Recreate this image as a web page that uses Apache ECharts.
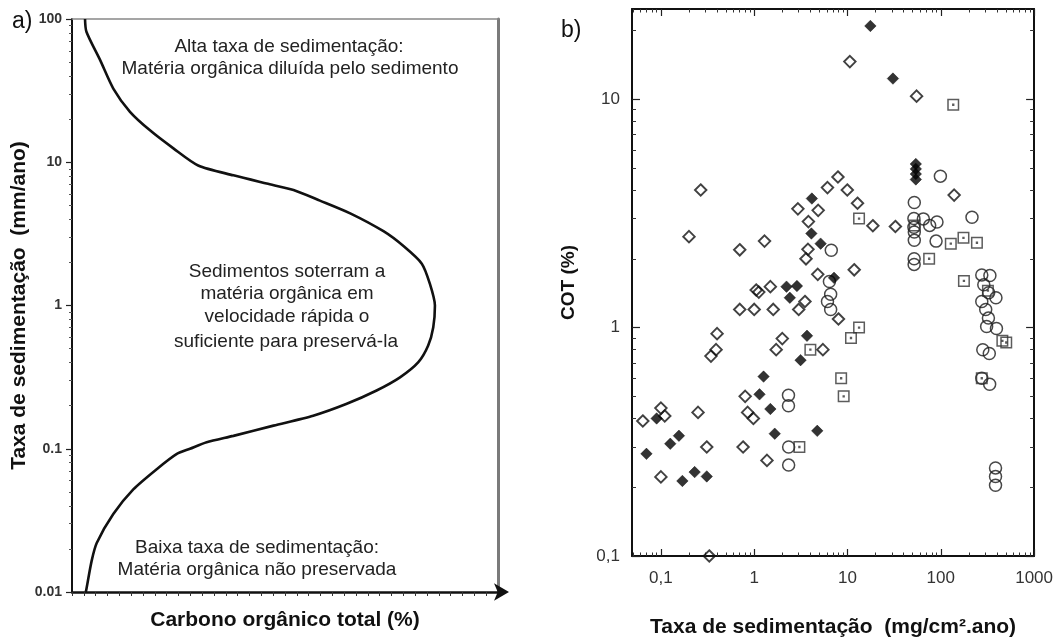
<!DOCTYPE html>
<html>
<head>
<meta charset="utf-8">
<script src="https://cdn.jsdelivr.net/npm/echarts@6/dist/echarts.min.js"></script>
<style>
  html, body { margin: 0; padding: 0; background: #fff; }
  #chart { width: 1056px; height: 643px; }
</style>
</head>
<body>
<div id="chart"></div>
<script>
// ---- Panel a: conceptual curve (carbon, unitless axis) vs sedimentation rate (mm/ano)
const curveCarbon = [1.10, 1.22, 2.38, 3.49, 4.90, 6.59, 8.57, 10.66, 13.64, 16.45, 18.72, 20.95,
  23.51, 26.32, 28.01, 29.56, 30.24, 30.67, 30.53, 30.10, 29.27, 27.72, 25.74, 23.22, 20.38,
  17.03, 13.64, 11.38, 9.97, 8.86, 7.16, 5.18, 3.49, 2.09, 1.66, 1.19, 1.15];
const curveRate = [100, 81.5, 51.6, 32.7, 22.5, 16.7, 12.5, 9.5, 8.1, 7.1, 6.4, 5.4,
  4.4, 3.3, 2.6, 1.96, 1.42, 1.0, 0.705, 0.525, 0.402, 0.315, 0.255, 0.206, 0.17,
  0.145, 0.123, 0.111, 0.1, 0.092, 0.072, 0.052, 0.035, 0.022, 0.0165, 0.0102, 0.01];
const rateTicksA = [0.01, 0.1, 1, 10, 100];
const rateTickLabelsA = ['0.01', '0.1', '1', '10', '100'];

// ---- Panel b: [taxa de sedimentação (mg/cm².ano), COT (%)]
const xTicksB = [0.1, 1, 10, 100, 1000];
const xTickLabelsB = ['0,1', '1', '10', '100', '1000'];
const yTicksB = [0.1, 1, 10];
const yTickLabelsB = ['0,1', '1', '10'];

const filledDiamonds = [
  [17.6, 20.9], [30.7, 12.3], [54, 5.2], [54, 4.95], [54, 4.7], [54, 4.45], [4.15, 3.67],
  [4.1, 2.58], [5.15, 2.33], [2.22, 1.51], [2.87, 1.52], [2.41, 1.35], [7.17, 1.65],
  [3.68, 0.92], [3.14, 0.72], [1.26, 0.61], [1.14, 0.51], [1.49, 0.44], [1.66, 0.343],
  [4.74, 0.353], [0.09, 0.40], [0.07, 0.28], [0.126, 0.31], [0.156, 0.336], [0.17, 0.213],
  [0.23, 0.233], [0.31, 0.223]
];
const openDiamonds = [
  [10.6, 14.6], [55, 10.3], [0.267, 4.0], [2.94, 3.31], [4.85, 3.26], [6.1, 4.1], [7.9, 4.56],
  [9.95, 4.0], [12.8, 3.5], [139, 3.8], [18.7, 2.79], [32.6, 2.77], [3.81, 2.91], [3.77, 2.2],
  [3.59, 2.0], [11.8, 1.79], [4.8, 1.71], [0.2, 2.5], [0.7, 2.19], [1.29, 2.39], [1.05, 1.46],
  [1.12, 1.43], [1.49, 1.51], [0.7, 1.2], [1.0, 1.2], [1.6, 1.2], [3.5, 1.3], [3.0, 1.2],
  [8.0, 1.09], [2.0, 0.895], [1.72, 0.8], [5.45, 0.8], [0.4, 0.94], [0.39, 0.8], [0.344, 0.75],
  [0.1, 0.444], [0.11, 0.41], [0.064, 0.39], [0.25, 0.425], [0.8, 0.5], [0.85, 0.425],
  [0.98, 0.4], [0.31, 0.3], [0.76, 0.3], [1.37, 0.262], [0.1, 0.222], [0.33, 0.1]
];
const openCircles = [
  [99, 4.6], [52, 3.53], [216, 3.04], [51.5, 3.0], [65, 2.99], [76, 2.8], [91, 2.9],
  [51.5, 2.75], [52, 2.62], [52, 2.41], [89, 2.39], [51.8, 2.0], [51.8, 1.89], [6.7, 2.18],
  [6.4, 1.59], [6.6, 1.4], [6.1, 1.3], [6.6, 1.2], [2.33, 0.505], [2.33, 0.455], [2.34, 0.3],
  [2.34, 0.25], [275, 1.7], [336, 1.69], [289, 1.54], [326, 1.42], [275, 1.3], [390, 1.35],
  [303, 1.2], [324, 1.1], [310, 1.01], [395, 0.99], [282, 0.8], [331, 0.77], [275, 0.6],
  [334, 0.565], [386, 0.243], [386, 0.223], [386, 0.204]
];
const openSquares = [
  [136, 9.45], [13.3, 3.0], [128, 2.33], [175, 2.47], [244, 2.35], [75, 2.0], [177, 1.6],
  [52.6, 2.8], [320, 1.45], [457, 0.875], [503, 0.86], [275, 0.6], [13.3, 1.0], [10.9, 0.9],
  [4.0, 0.8], [8.55, 0.6], [9.1, 0.5], [3.05, 0.3]
];

const lg = Math.log10;
const FONT = '"Liberation Sans", Arial, sans-serif';

// log-space positions of the 2..9 sub-ticks inside [lo, hi]
function minorLogTicks(lo, hi) {
  const out = [];
  for (let d = Math.floor(lo) - 1; d <= Math.ceil(hi); d++) {
    for (let k = 2; k <= 9; k++) {
      const v = lg(k) + d;
      if (v > lo && v < hi) out.push(v);
    }
  }
  return out;
}
function labelMap(values, labels) {
  const m = {};
  values.forEach((v, i) => { m[Math.round(lg(v))] = labels[i]; });
  return v => m[Math.round(v)] ?? '';
}

const xMinB = lg(0.049), xMaxB = 3;
const yMinB = -1, yMaxB = lg(24.8);

const chart = echarts.init(document.getElementById('chart'), null, { renderer: 'canvas' });

const hidden = { show: false };
const noLine = { show: false, onZero: false };
const blankAxis = (extra) => Object.assign({
  type: 'value', splitLine: hidden, axisLabel: hidden, axisTick: hidden, axisLine: noLine
}, extra);
const line = (color, width) => ({ show: true, onZero: false, lineStyle: { color, width } });

const option = {
  animation: false,
  backgroundColor: '#fff',
  grid: [
    { left: 72, top: 19, width: 426, height: 573 },
    { left: 632, top: 9, width: 411.5, height: 553 }
  ],
  xAxis: [
    // panel a, bottom axis with arrow
    {
      type: 'value', gridIndex: 0, position: 'bottom', min: 0, max: 36, interval: 1,
      axisLine: { show: true, onZero: false, symbol: ['none', 'arrow'], symbolSize: [13, 15], symbolOffset: [0, 11],
        lineStyle: { color: '#111', width: 2.5 } },
      axisTick: { show: true, inside: false, length: 4, lineStyle: { color: '#333', width: 1 } },
      axisLabel: hidden, splitLine: hidden,
      name: 'Carbono orgânico total (%)', nameLocation: 'middle', nameGap: 18,
      nameTextStyle: { fontFamily: FONT, fontWeight: 'bold', fontSize: 21, color: '#111' }
    },
    // panel a, top border
    blankAxis({ gridIndex: 0, position: 'top', min: 0, max: 36, axisLine: line('#888', 1.5) }),
    // panel b, bottom major
    {
      type: 'value', gridIndex: 1, position: 'bottom', min: xMinB, max: xMaxB,
      axisLine: line('#111', 2),
      axisTick: { show: true, inside: true, length: 7, customValues: xTicksB.map(lg),
        lineStyle: { color: '#222', width: 1.2 } },
      axisLabel: { show: true, customValues: xTicksB.map(lg), formatter: labelMap(xTicksB, xTickLabelsB),
        fontFamily: FONT, fontSize: 17, color: '#333', margin: 14 },
      splitLine: hidden,
      name: 'Taxa de sedimentação  (mg/cm².ano)', nameLocation: 'middle', nameGap: 61,
      nameTextStyle: { fontFamily: FONT, fontWeight: 'bold', fontSize: 21, color: '#111' }
    },
    // panel b, bottom minor
    blankAxis({ gridIndex: 1, position: 'bottom', min: xMinB, max: xMaxB,
      axisTick: { show: true, inside: true, length: 3.5, customValues: minorLogTicks(xMinB, xMaxB),
        lineStyle: { color: '#333', width: 1 } } }),
    // panel b, top major
    blankAxis({ gridIndex: 1, position: 'top', min: xMinB, max: xMaxB,
      axisLine: line('#111', 2),
      axisTick: { show: true, inside: true, length: 7, customValues: xTicksB.map(lg),
        lineStyle: { color: '#222', width: 1.2 } } }),
    // panel b, top minor
    blankAxis({ gridIndex: 1, position: 'top', min: xMinB, max: xMaxB,
      axisTick: { show: true, inside: true, length: 3.5, customValues: minorLogTicks(xMinB, xMaxB),
        lineStyle: { color: '#333', width: 1 } } })
  ],
  yAxis: [
    // panel a, left major (log10 of mm/ano)
    {
      type: 'value', gridIndex: 0, position: 'left', min: -2, max: 2, interval: 1,
      axisLine: line('#111', 2),
      axisTick: { show: true, inside: false, length: 6, lineStyle: { color: '#222', width: 1.2 } },
      axisLabel: { show: true, formatter: labelMap(rateTicksA, rateTickLabelsA),
        fontFamily: FONT, fontWeight: 'bold', fontSize: 14, color: '#333', margin: 10 },
      splitLine: hidden,
      name: 'Taxa de sedimentação  (mm/ano)', nameLocation: 'middle', nameGap: 42, nameRotate: 90,
      nameTextStyle: { fontFamily: FONT, fontWeight: 'bold', fontSize: 21, color: '#111' }
    },
    // panel a, left minor
    blankAxis({ gridIndex: 0, position: 'left', min: -2, max: 2,
      axisTick: { show: true, inside: false, length: 3, customValues: minorLogTicks(-2, 2),
        lineStyle: { color: '#555', width: 1 } } }),
    // panel a, right border
    blankAxis({ gridIndex: 0, position: 'right', min: -2, max: 2, axisLine: line('#7a7a7a', 3) }),
    // panel b, left major (log10 of COT %)
    {
      type: 'value', gridIndex: 1, position: 'left', min: yMinB, max: yMaxB,
      axisLine: line('#111', 2),
      axisTick: { show: true, inside: true, length: 8, customValues: yTicksB.map(lg),
        lineStyle: { color: '#222', width: 1.2 } },
      axisLabel: { show: true, customValues: yTicksB.map(lg), formatter: labelMap(yTicksB, yTickLabelsB),
        fontFamily: FONT, fontSize: 17, color: '#333', margin: 12 },
      splitLine: hidden,
      name: 'COT (%)', nameLocation: 'middle', nameGap: 54, nameRotate: 90,
      nameTextStyle: { fontFamily: FONT, fontWeight: 'bold', fontSize: 19, color: '#111' }
    },
    // panel b, left minor
    blankAxis({ gridIndex: 1, position: 'left', min: yMinB, max: yMaxB,
      axisTick: { show: true, inside: true, length: 4, customValues: minorLogTicks(yMinB, yMaxB),
        lineStyle: { color: '#333', width: 1 } } }),
    // panel b, right major
    blankAxis({ gridIndex: 1, position: 'right', min: yMinB, max: yMaxB,
      axisLine: line('#111', 2),
      axisTick: { show: true, inside: true, length: 8, customValues: yTicksB.map(lg),
        lineStyle: { color: '#222', width: 1.2 } } }),
    // panel b, right minor
    blankAxis({ gridIndex: 1, position: 'right', min: yMinB, max: yMaxB,
      axisTick: { show: true, inside: true, length: 4, customValues: minorLogTicks(yMinB, yMaxB),
        lineStyle: { color: '#333', width: 1 } } })
  ],
  series: [
    {
      type: 'line', xAxisIndex: 0, yAxisIndex: 0,
      data: curveCarbon.map((c, i) => [c, lg(curveRate[i])]),
      showSymbol: false, smooth: 0.25,
      lineStyle: { color: '#111', width: 2.6 }
    },
    {
      type: 'scatter', xAxisIndex: 2, yAxisIndex: 3,
      data: openCircles.map(p => [lg(p[0]), lg(p[1])]),
      symbol: 'circle', symbolSize: 12,
      itemStyle: { color: 'rgba(255,255,255,0)', borderColor: '#1a1a1a', borderWidth: 1.5 }
    },
    {
      type: 'scatter', xAxisIndex: 2, yAxisIndex: 3,
      data: openSquares.map(p => [lg(p[0]), lg(p[1])]),
      symbol: 'path://M0,0H10V10H0Z M4.6,4.6H5.4V5.4H4.6Z', symbolSize: 10.5,
      itemStyle: { color: 'rgba(255,255,255,0)', borderColor: '#333', borderWidth: 1.5 }
    },
    {
      type: 'scatter', xAxisIndex: 2, yAxisIndex: 3,
      data: openDiamonds.map(p => [lg(p[0]), lg(p[1])]),
      symbol: 'diamond', symbolSize: 11.5,
      itemStyle: { color: 'rgba(255,255,255,0)', borderColor: '#111', borderWidth: 1.9 }
    },
    {
      type: 'scatter', xAxisIndex: 2, yAxisIndex: 3,
      data: filledDiamonds.map(p => [lg(p[0]), lg(p[1])]),
      symbol: 'diamond', symbolSize: 11.5,
      itemStyle: { color: '#000', borderColor: '#000', borderWidth: 0.5 }
    }
  ],
  graphic: [
    { type: 'text', style: { text: 'a)', x: 12, y: 33, font: '23px ' + FONT, fill: '#111', verticalAlign: 'bottom' } },
    { type: 'text', style: { text: 'b)', x: 561, y: 42, font: '23px ' + FONT, fill: '#111', verticalAlign: 'bottom' } },
    { type: 'text', style: { text: 'Alta taxa de sedimentação:', x: 289, y: 47, font: '19px ' + FONT, fill: '#222', align: 'center', verticalAlign: 'middle' } },
    { type: 'text', style: { text: 'Matéria orgânica diluída pelo sedimento', x: 290, y: 69, font: '19px ' + FONT, fill: '#222', align: 'center', verticalAlign: 'middle' } },
    { type: 'text', style: { text: 'Sedimentos soterram a', x: 287, y: 272, font: '19px ' + FONT, fill: '#222', align: 'center', verticalAlign: 'middle' } },
    { type: 'text', style: { text: 'matéria orgânica em', x: 287, y: 294, font: '19px ' + FONT, fill: '#222', align: 'center', verticalAlign: 'middle' } },
    { type: 'text', style: { text: 'velocidade rápida o', x: 287, y: 317, font: '19px ' + FONT, fill: '#222', align: 'center', verticalAlign: 'middle' } },
    { type: 'text', style: { text: 'suficiente para preservá-la', x: 286, y: 342, font: '19px ' + FONT, fill: '#222', align: 'center', verticalAlign: 'middle' } },
    { type: 'text', style: { text: 'Baixa taxa de sedimentação:', x: 257, y: 548, font: '19px ' + FONT, fill: '#222', align: 'center', verticalAlign: 'middle' } },
    { type: 'text', style: { text: 'Matéria orgânica não preservada', x: 257, y: 570, font: '19px ' + FONT, fill: '#222', align: 'center', verticalAlign: 'middle' } }
  ]
};

chart.setOption(option);
</script>
</body>
</html>
